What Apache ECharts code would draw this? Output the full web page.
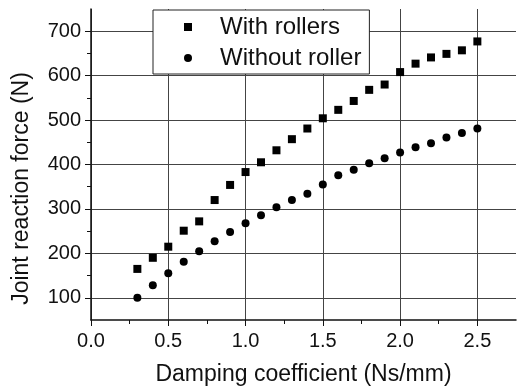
<!DOCTYPE html>
<html>
<head>
<meta charset="utf-8">
<script src="https://cdn.jsdelivr.net/npm/echarts@6/dist/echarts.min.js"></script>
<style>
  html, body { margin: 0; padding: 0; background: #fff; }
  #chart { width: 519px; height: 391px; }
</style>
</head>
<body>
<div id="chart"></div>
<script>
var damping = [0.3, 0.4, 0.5, 0.6, 0.7, 0.8, 0.9, 1.0, 1.1, 1.2, 1.3, 1.4,
               1.5, 1.6, 1.7, 1.8, 1.9, 2.0, 2.1, 2.2, 2.3, 2.4, 2.5];
var withRollers = [165, 190, 215, 251, 272, 320, 354, 383, 405, 432, 457, 481,
                   504, 523, 543, 568, 580, 608, 627, 641, 649, 657, 677];
var withoutRoller = [100, 128, 155, 181, 205, 227, 248, 268, 286, 304, 320, 334,
                     355, 376, 388, 403, 414, 427, 439, 448, 461, 471, 481];
var xTicks = [0.0, 0.5, 1.0, 1.5, 2.0, 2.5];
var yTicks = [100, 200, 300, 400, 500, 600, 700];

function pairs(xs, ys) {
    return xs.map(function (x, i) { return [x, ys[i]]; });
}

var chart = echarts.init(document.getElementById('chart'));
var font = 'Liberation Sans, Arial, sans-serif';

chart.setOption({
    animation: false,
    grid: { left: 91, right: 3, top: 9, bottom: 70 },
    legend: {
        left: 153, top: 10, width: 222,
        orient: 'vertical',
        itemGap: 7,
        padding: [5, 8, 4, 31],
        backgroundColor: '#fff',
        borderColor: '#222',
        borderWidth: 1,
        itemWidth: 8, itemHeight: 8,
        textStyle: { fontFamily: font, fontSize: 24, color: '#111', padding: [0, 0, 0, 23] },
        data: [
            { name: 'With rollers', icon: 'rect' },
            { name: 'Without roller', icon: 'circle' }
        ]
    },
    xAxis: {
        type: 'value',
        min: 0, max: 2.75,
        name: 'Damping coefficient (Ns/mm)',
        nameLocation: 'middle',
        nameGap: 43,
        nameTextStyle: { fontFamily: font, fontSize: 23, color: '#111' },
        axisLine: { onZero: false, lineStyle: { color: '#111', width: 1.5 } },
        axisTick: { customValues: xTicks, length: 6, lineStyle: { color: '#111' } },
        minorTick: { show: true, splitNumber: 2, length: 4, lineStyle: { color: '#111' } },
        axisLabel: {
            customValues: xTicks, fontFamily: font, fontSize: 20, color: '#111', margin: 11,
            formatter: function (v) { return v.toFixed(1); }
        },
        splitLine: { show: true, lineStyle: { color: '#444', width: 1 } }
    },
    yAxis: {
        type: 'value',
        min: 50, max: 750,
        name: 'Joint reaction force (N)',
        nameLocation: 'middle',
        nameGap: 58,
        nameTextStyle: { fontFamily: font, fontSize: 23, color: '#111', padding: [0, 48, 0, 0] },
        axisLine: { show: true, onZero: false, lineStyle: { color: '#111', width: 1.5 } },
        axisTick: { show: true, customValues: yTicks, length: 6, lineStyle: { color: '#111' } },
        minorTick: { show: true, splitNumber: 2, length: 4, lineStyle: { color: '#111' } },
        axisLabel: { customValues: yTicks, fontFamily: font, fontSize: 20, color: '#111', margin: 10 },
        splitLine: { show: true, lineStyle: { color: '#444', width: 1 } }
    },
    series: [
        {
            name: 'With rollers',
            type: 'scatter',
            symbol: 'rect',
            symbolSize: 8,
            itemStyle: { color: '#000', opacity: 1 },
            data: pairs(damping, withRollers)
        },
        {
            name: 'Without roller',
            type: 'scatter',
            symbol: 'circle',
            symbolSize: 8,
            itemStyle: { color: '#000', opacity: 1 },
            data: pairs(damping, withoutRoller)
        }
    ]
});
</script>
</body>
</html>
